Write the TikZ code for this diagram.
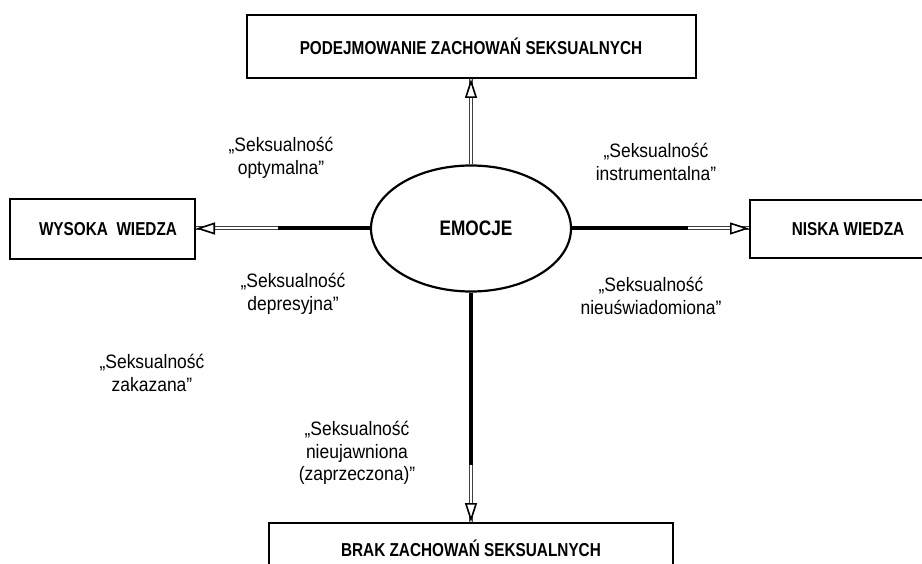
\documentclass[tikz,border=0pt]{standalone}
\usepackage{fontspec}
\setmainfont{Liberation Sans}[FakeStretch=0.9]
\newfontfamily\condf{Liberation Sans}[FakeStretch=0.82]
\usetikzlibrary{shapes.geometric,arrows.meta}
\tikzset{
  boxnode/.style={draw=black, line width=2pt, inner sep=0pt, font=\condf\bfseries\fontsize{18.7}{21}\selectfont},
  emonode/.style={draw=black, ellipse, line width=2.2pt, inner sep=0pt, minimum width=200, minimum height=126, font=\condf\bfseries\fontsize{21}{24}\selectfont},
  lab/.style={align=center, inner sep=0pt, font=\fontsize{19.4}{22.5}\selectfont},
  blk/.style={draw=black, line width=4pt},
  dbl/.style={draw=black!75, line width=1pt, double=white, double distance=2pt},
  tipw/.style={draw=white, line width=1.4pt, -{Triangle[length=19pt, width=12pt, color=black, fill=white, line width=1.6pt]}}
}
\begin{document}
\begin{tikzpicture}[x=1pt, y=-1pt]
\useasboundingbox (0,0) rectangle (922,564);

% boxes
\node[boxnode, minimum width=449, minimum height=63] (top) at (471,46.5) {PODEJMOWANIE ZACHOWAŃ SEKSUALNYCH};
\node[boxnode, minimum width=185, minimum height=60] (left) at (102.5,229) {\hspace*{11pt}WYSOKA\ \ WIEDZA};
\node[boxnode, anchor=west, minimum width=196, minimum height=58] (right) at (749,229) {NISKA WIEDZA};
\node[boxnode, anchor=north, minimum width=404, text height=33, text depth=45] (bot) at (471,522) {BRAK ZACHOWAŃ SEKSUALNYCH};

% ellipse
\node[emonode] (emo) at (471,228.5) {\hspace*{10pt}EMOCJE};

% junctions
\coordinate (lj) at (278,228.5);
\coordinate (rj) at (688,228.5);
\coordinate (bj) at (471,465);

% connectors
\draw[dbl] (emo.north) -- (emo.north |- top.south);
\draw[tipw] (emo.north) -- (emo.north |- top.south);

\draw[blk] (emo.west) -- (lj);
\draw[dbl] (lj) -- (lj -| left.east);
\draw[tipw] (lj) -- (lj -| left.east);

\draw[blk] (emo.east) -- (rj);
\draw[dbl] (rj) -- (rj -| right.west);
\draw[tipw] (rj) -- (rj -| right.west);

\draw[blk] (emo.south) -- (bj);
\draw[dbl] (bj) -- (bot.north);
\draw[tipw] (bj) -- (bot.north);

% labels
\node[lab] (l1) at (281,158) {„Seksualność\\optymalna”};
\node[lab] (l2) at (656,162) {„Seksualność\\instrumentalna”};
\node[lab] (l3) at (293,294) {„Seksualność\\depresyjna”};
\node[lab] (l4) at (651,296) {„Seksualność\\nieuświadomiona”};
\node[lab] (l5) at (152,373) {„Seksualność\\zakazana”};
\node[lab] (l6) at (357,453) {„Seksualność\\nieujawniona\\(zaprzeczona)”};
\end{tikzpicture}
\end{document}
